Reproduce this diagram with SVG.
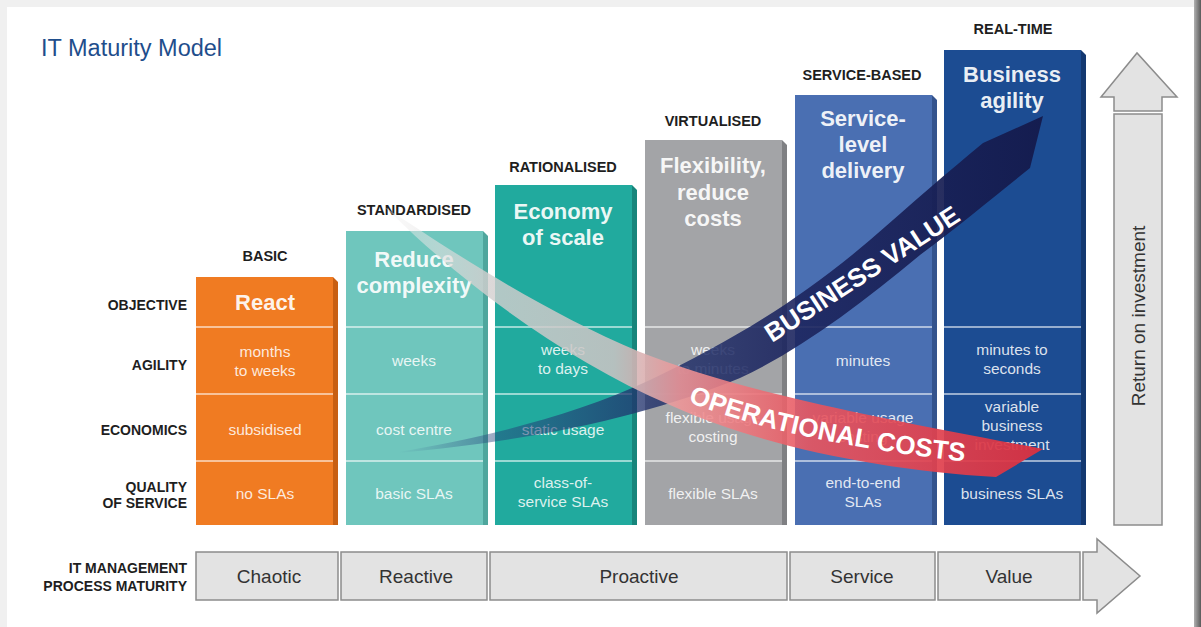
<svg xmlns="http://www.w3.org/2000/svg" width="1201" height="627" viewBox="0 0 1201 627">
<defs>
<style>
.hdr{font-family:"Liberation Sans",Arial,sans-serif;font-weight:bold;font-size:14.5px;fill:#1e1e1e;text-anchor:middle}
.row{font-family:"Liberation Sans",Arial,sans-serif;font-weight:bold;font-size:14px;fill:#1e1e1e;text-anchor:end}
.obj{font-family:"Liberation Sans",Arial,sans-serif;font-weight:bold;font-size:22px;fill:#fff;fill-opacity:.92;text-anchor:middle}
.cell{font-family:"Liberation Sans",Arial,sans-serif;font-size:15.5px;fill:#fff;fill-opacity:.85;text-anchor:middle}
.div{stroke:#fff;stroke-opacity:.55;stroke-width:2}
.box{fill:#e3e3e3;stroke:#8c8c8c;stroke-width:1.5}
.boxt{font-family:"Liberation Sans",Arial,sans-serif;font-size:19px;fill:#333;text-anchor:middle}
.band{font-family:"Liberation Sans",Arial,sans-serif;font-weight:bold;font-size:26px;fill:#fff}
</style>
<linearGradient id="gBV" gradientUnits="userSpaceOnUse" x1="398" y1="0" x2="1043" y2="0">
<stop offset="0" stop-color="#2b3f80" stop-opacity="0"/>
<stop offset="0.15" stop-color="#24407a" stop-opacity="0.45"/>
<stop offset="0.4" stop-color="#1f2f6a" stop-opacity="0.8"/>
<stop offset="0.6" stop-color="#1d2660" stop-opacity="0.9"/>
<stop offset="1" stop-color="#141a4c" stop-opacity="0.95"/>
</linearGradient>
<linearGradient id="gOC" gradientUnits="userSpaceOnUse" x1="383" y1="0" x2="1043" y2="0">
<stop offset="0" stop-color="#f4f4f4" stop-opacity="0.35"/>
<stop offset="0.15" stop-color="#d4d0d0" stop-opacity="0.8"/>
<stop offset="0.35" stop-color="#c9c3c3" stop-opacity="0.88"/>
<stop offset="0.45" stop-color="#ef9698" stop-opacity="0.88"/>
<stop offset="0.65" stop-color="#e8555f" stop-opacity="0.9"/>
<stop offset="1" stop-color="#d93040" stop-opacity="0.95"/>
</linearGradient>
<linearGradient id="gR" x1="0" y1="0" x2="1" y2="0">
<stop offset="0" stop-color="#b0b0b0"/>
<stop offset="1" stop-color="#5a5a5a"/>
</linearGradient>
</defs>

<rect x="0" y="0" width="1201" height="627" fill="#f0f0f0"/>
<rect x="7" y="7" width="1188" height="620" fill="#ffffff"/>
<rect x="1194" y="0" width="7" height="627" fill="url(#gR)"/>

<text x="41" y="56" font-family="'Liberation Sans',Arial,sans-serif" font-size="23.5" fill="#1f4e8c">IT Maturity Model</text>

<g id="row-labels">
<text class="row" x="187" y="310">OBJECTIVE</text>
<text class="row" x="187" y="370">AGILITY</text>
<text class="row" x="187" y="435">ECONOMICS</text>
<text class="row" x="187" y="492">QUALITY</text>
<text class="row" x="187" y="508">OF SERVICE</text>
</g>

<g id="basic">
<text class="hdr" x="265" y="261">BASIC</text>
<polygon points="333,277 338,282 338,525 333,525" fill="#c85f12"/>
<rect x="196" y="277" width="137" height="248" fill="#f07b22"/>
<line class="div" x1="196" y1="327" x2="333" y2="327"/>
<line class="div" x1="196" y1="394" x2="333" y2="394"/>
<line class="div" x1="196" y1="461" x2="333" y2="461"/>
<text class="obj" x="265" y="310">React</text>
<text class="cell" x="265" y="357">months</text>
<text class="cell" x="265" y="376">to weeks</text>
<text class="cell" x="265" y="435">subsidised</text>
<text class="cell" x="265" y="499">no SLAs</text>
</g>

<g id="standardised">
<text class="hdr" x="414" y="215">STANDARDISED</text>
<polygon points="483,231 488,236 488,525 483,525" fill="#4fa69d"/>
<rect x="346" y="231" width="137" height="294" fill="#6fc6bd"/>
<line class="div" x1="346" y1="327" x2="483" y2="327"/>
<line class="div" x1="346" y1="394" x2="483" y2="394"/>
<line class="div" x1="346" y1="461" x2="483" y2="461"/>
<text class="obj" x="414" y="267">Reduce</text>
<text class="obj" x="414" y="293">complexity</text>
<text class="cell" x="414" y="366">weeks</text>
<text class="cell" x="414" y="435">cost centre</text>
<text class="cell" x="414" y="499">basic SLAs</text>
</g>

<g id="rationalised">
<text class="hdr" x="563" y="172">RATIONALISED</text>
<polygon points="632,185 637,190 637,525 632,525" fill="#17857b"/>
<rect x="495" y="185" width="137" height="340" fill="#21aa9e"/>
<line class="div" x1="495" y1="327" x2="632" y2="327"/>
<line class="div" x1="495" y1="394" x2="632" y2="394"/>
<line class="div" x1="495" y1="461" x2="632" y2="461"/>
<text class="obj" x="563" y="219">Economy</text>
<text class="obj" x="563" y="245">of scale</text>
<text class="cell" x="563" y="355">weeks</text>
<text class="cell" x="563" y="374">to days</text>
<text class="cell" x="563" y="435">static usage</text>
<text class="cell" x="563" y="488">class-of-</text>
<text class="cell" x="563" y="507">service SLAs</text>
</g>

<g id="virtualised">
<text class="hdr" x="713" y="126">VIRTUALISED</text>
<polygon points="782,140 787,145 787,525 782,525" fill="#7f8083"/>
<rect x="645" y="140" width="137" height="385" fill="#a3a4a7"/>
<line class="div" x1="645" y1="327" x2="782" y2="327"/>
<line class="div" x1="645" y1="394" x2="782" y2="394"/>
<line class="div" x1="645" y1="461" x2="782" y2="461"/>
<text class="obj" x="713" y="173">Flexibility,</text>
<text class="obj" x="713" y="200">reduce</text>
<text class="obj" x="713" y="226">costs</text>
<text class="cell" x="713" y="355">weeks</text>
<text class="cell" x="713" y="374">to minutes</text>
<text class="cell" x="713" y="423">flexible usage</text>
<text class="cell" x="713" y="442">costing</text>
<text class="cell" x="713" y="499">flexible SLAs</text>
</g>

<g id="service-based">
<text class="hdr" x="862" y="80">SERVICE-BASED</text>
<polygon points="932,95 937,100 937,525 932,525" fill="#34538d"/>
<rect x="795" y="95" width="137" height="430" fill="#4a6fb2"/>
<line class="div" x1="795" y1="327" x2="932" y2="327"/>
<line class="div" x1="795" y1="394" x2="932" y2="394"/>
<line class="div" x1="795" y1="461" x2="932" y2="461"/>
<text class="obj" x="863" y="126">Service-</text>
<text class="obj" x="863" y="152">level</text>
<text class="obj" x="863" y="178">delivery</text>
<text class="cell" x="863" y="366">minutes</text>
<text class="cell" x="863" y="423">variable usage</text>
<text class="cell" x="863" y="442">costing</text>
<text class="cell" x="863" y="488">end-to-end</text>
<text class="cell" x="863" y="507">SLAs</text>
</g>

<g id="real-time">
<text class="hdr" x="1013" y="34">REAL-TIME</text>
<polygon points="1081,50 1086,55 1086,525 1081,525" fill="#133870"/>
<rect x="944" y="50" width="137" height="475" fill="#1c4c92"/>
<line class="div" x1="944" y1="327" x2="1081" y2="327"/>
<line class="div" x1="944" y1="394" x2="1081" y2="394"/>
<line class="div" x1="944" y1="461" x2="1081" y2="461"/>
<text class="obj" x="1012" y="82">Business</text>
<text class="obj" x="1012" y="108">agility</text>
<text class="cell" x="1012" y="355">minutes to</text>
<text class="cell" x="1012" y="374">seconds</text>
<text class="cell" x="1012" y="412">variable</text>
<text class="cell" x="1012" y="431">business</text>
<text class="cell" x="1012" y="450">investment</text>
<text class="cell" x="1012" y="499">business SLAs</text>
</g>

<g id="roi">
<polygon points="1114,111 1114,97 1101,97 1137,53 1177,97 1162,97 1162,111" class="box"/>
<rect x="1114" y="114" width="48" height="411" class="box"/>
<text transform="translate(1145,316) rotate(-90)" font-family="'Liberation Sans',Arial,sans-serif" font-size="19" fill="#333" text-anchor="middle">Return on investment</text>
</g>

<g id="process-maturity">
<text class="row" x="187" y="573">IT MANAGEMENT</text>
<text class="row" x="187" y="591">PROCESS MATURITY</text>
<rect class="box" x="196" y="552" width="142" height="48"/>
<rect class="box" x="341" y="552" width="146" height="48"/>
<rect class="box" x="490" y="552" width="297" height="48"/>
<rect class="box" x="790" y="552" width="145" height="48"/>
<rect class="box" x="938" y="552" width="142" height="48"/>
<polygon class="box" points="1083,552 1097,552 1097,539 1140,576 1097,613 1097,600 1083,600"/>
<text class="boxt" x="269" y="583">Chaotic</text>
<text class="boxt" x="416" y="583">Reactive</text>
<text class="boxt" x="639" y="583">Proactive</text>
<text class="boxt" x="862" y="583">Service</text>
<text class="boxt" x="1009" y="583">Value</text>
</g>

<g id="connectors">
<path id="bv-band" d="M398,452 C470,440 570,418 650,380 C730,342 800,300 870,240 C910,205 950,170 983,143 L1043,116 L1030,168 C1000,192 960,225 920,255 C860,305 800,350 740,378 C650,415 540,440 398,453 Z" fill="url(#gBV)"/>
<path id="oc-band" d="M383,206 C450,250 540,310 640,352 C740,392 880,418 1043,449 L996,477 C880,470 760,446 670,405 C570,362 470,290 392,214 Z" fill="url(#gOC)"/>
<text class="band" transform="translate(772,343) rotate(-33)">BUSINESS VALUE</text>
<path id="ocp" d="M688,402 Q800,445 980,463" fill="none"/>
<text class="band"><textPath href="#ocp">OPERATIONAL COSTS</textPath></text>
</g>
</svg>
